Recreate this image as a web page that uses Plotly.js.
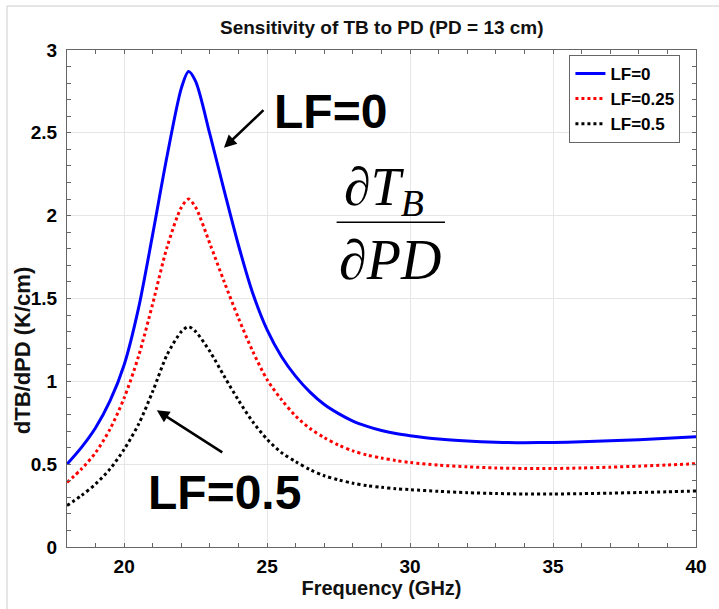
<!DOCTYPE html>
<html>
<head>
<meta charset="utf-8">
<script src="https://cdn.plot.ly/plotly-3.0.1.min.js"></script>
<style>html,body{margin:0;padding:0;background:#fff;}#chart{width:719px;height:609px;}</style>
</head>
<body>
<div id="chart"></div>
<script>
const freq = [18, 18.5, 19, 19.5, 20, 20.5, 21, 21.5, 22, 22.25, 22.5, 23, 23.5, 24, 24.5, 25, 25.5, 26, 26.5, 27, 27.5, 28, 28.5, 29, 29.5, 30, 31, 32, 33, 34, 35, 36, 37, 38, 39, 40];
const lf0 = [0.50, 0.60, 0.72, 0.88, 1.10, 1.44, 1.89, 2.36, 2.77, 2.87, 2.81, 2.49, 2.15, 1.82, 1.53, 1.31, 1.15, 1.03, 0.935, 0.86, 0.805, 0.76, 0.728, 0.703, 0.685, 0.672, 0.652, 0.64, 0.633, 0.63, 0.631, 0.635, 0.641, 0.648, 0.656, 0.665];
const lf025 = [0.39, 0.47, 0.57, 0.71, 0.90, 1.15, 1.47, 1.81, 2.05, 2.10, 2.05, 1.83, 1.60, 1.38, 1.18, 1.01, 0.89, 0.79, 0.715, 0.66, 0.615, 0.58, 0.555, 0.537, 0.522, 0.51, 0.494, 0.484, 0.477, 0.474, 0.474, 0.477, 0.482, 0.488, 0.495, 0.503];
const lf05 = [0.25, 0.31, 0.38, 0.47, 0.59, 0.74, 0.94, 1.16, 1.30, 1.33, 1.30, 1.18, 1.03, 0.885, 0.755, 0.65, 0.57, 0.515, 0.467, 0.43, 0.405, 0.385, 0.37, 0.36, 0.352, 0.346, 0.336, 0.328, 0.323, 0.32, 0.32, 0.322, 0.325, 0.329, 0.333, 0.338];
const seriesNames = ['LF=0', 'LF=0.25', 'LF=0.5'];
const xTicks = [20, 25, 30, 35, 40];
const yTicks = [0, 0.5, 1, 1.5, 2, 2.5, 3];
const yTickText = ['0', '0.5', '1', '1.5', '2', '2.5', '3'];

const F = 'Liberation Sans, Arial, sans-serif';
const SERIF = 'Liberation Serif, Times New Roman, serif';
const traces = [
  {x: freq, y: lf0, name: seriesNames[0], mode: 'lines', line: {color: '#0000ff', width: 3, shape: 'spline', smoothing: 0.8}},
  {x: freq, y: lf025, name: seriesNames[1], mode: 'lines', line: {color: '#ff0000', width: 3, dash: 'dot', shape: 'spline', smoothing: 0.8}},
  {x: freq, y: lf05, name: seriesNames[2], mode: 'lines', line: {color: '#000000', width: 3, dash: 'dot', shape: 'spline', smoothing: 0.8}}
];
const axisCommon = {
  showline: true, linecolor: '#666', linewidth: 1, mirror: 'allticks',
  ticks: 'inside', ticklen: 4, tickcolor: '#666',
  showgrid: true, gridcolor: '#e6e6e6', gridwidth: 1, zeroline: false,
  tickfont: {family: F, size: 19, color: '#000', weight: 'bold'}
};
const layout = {
  width: 719, height: 609,
  margin: {l: 67, r: 23, t: 50, b: 62},
  paper_bgcolor: '#fff', plot_bgcolor: '#fff',
  title: {text: 'Sensitivity of TB to PD (PD = 13 cm)', x: 0.531, xanchor: 'center', y: 0.955, yanchor: 'middle',
          font: {family: F, size: 19, color: '#111', weight: 'bold'}},
  xaxis: Object.assign({}, axisCommon, {
    range: [18, 40], tickvals: xTicks, ticklabelstandoff: 2,
    minor: {dtick: 1, ticks: 'inside', ticklen: 4, tickcolor: '#666', showgrid: false},
    title: {text: 'Frequency (GHz)', standoff: 0, font: {family: F, size: 20, color: '#111', weight: 'bold'}}
  }),
  yaxis: Object.assign({}, axisCommon, {
    range: [0, 3], tickvals: yTicks, ticktext: yTickText, ticklabelstandoff: 5,
    minor: {dtick: 0.1, ticks: 'inside', ticklen: 4, tickcolor: '#666', showgrid: false}
  }),
  showlegend: true,
  legend: {x: 0.887, y: 0.99, xanchor: 'center', yanchor: 'top', bgcolor: '#fff', bordercolor: '#666', borderwidth: 1,
           font: {family: F, size: 17, color: '#000', weight: 'bold'}, tracegroupgap: 0, itemwidth: 30},
  annotations: [
    {x: -0.0715, y: 0.394, xref: 'paper', yref: 'paper', text: '<b>dTB/dPD (K/cm)</b>', textangle: -90, showarrow: false,
     xanchor: 'center', yanchor: 'middle', font: {family: F, size: 22, color: '#111'}},
    {x: 27.2, y: 2.63, xref: 'x', yref: 'y', text: '<b>LF=0</b>', showarrow: false, font: {family: F, size: 48, color: '#000'}},
    {x: 23.52, y: 0.33, xref: 'x', yref: 'y', text: '<b>LF=0.5</b>', showarrow: false, font: {family: F, size: 48, color: '#000'}},
    {x: 23.49, y: 2.41, xref: 'x', yref: 'y', text: '', showarrow: true, arrowhead: 2, arrowsize: 1, arrowwidth: 2.5, arrowcolor: '#000', ax: 41, ay: -39},
    {x: 21.14, y: 0.825, xref: 'x', yref: 'y', text: '', showarrow: true, arrowhead: 2, arrowsize: 1, arrowwidth: 2.5, arrowcolor: '#000', ax: 67, ay: 43},
    {x: 29.1, y: 2.15, xref: 'x', yref: 'y', text: '<i>∂T<sub>B</sub></i>', showarrow: false, font: {family: SERIF, size: 54, color: '#000'}},
    {x: 29.3, y: 1.73, xref: 'x', yref: 'y', text: '<i>∂PD</i>', showarrow: false, font: {family: SERIF, size: 56, color: '#000'}}
  ],
  shapes: [
    {type: 'line', xref: 'x', yref: 'y', x0: 27.43, x1: 31.22, y0: 1.96, y1: 1.96, line: {color: '#000', width: 1.5}},
    {type: 'line', xref: 'paper', yref: 'paper', x0: -0.0954, x1: -0.0954, y0: -0.2, y1: 1.0885, line: {color: '#ccc', width: 1}},
    {type: 'line', xref: 'paper', yref: 'paper', x0: -0.0954, x1: 1.1, y0: 1.0885, y1: 1.0885, line: {color: '#ccc', width: 1}}
  ]
};
Plotly.newPlot('chart', traces, layout, {displayModeBar: false, staticPlot: true});
</script>
</body>
</html>
